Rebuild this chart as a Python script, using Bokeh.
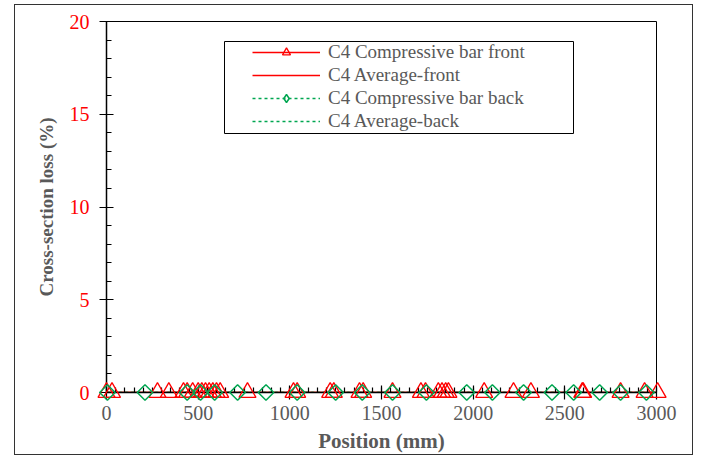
import math
from bokeh.plotting import figure
from bokeh.models import Range1d, FixedTicker, Legend, LegendItem, BoxAnnotation
from bokeh.embed import file_html
from bokeh.resources import INLINE

# ---- data ----
front_pos = [0, 30, 278, 340, 420, 440, 470, 500, 520, 540, 560, 580, 600, 620,
             769, 1020, 1040, 1220, 1240, 1380, 1400, 1560, 1715, 1740, 1810,
             1830, 1850, 1865, 2060, 2220, 2315, 2595, 2600, 2804, 2935, 3006]
front_loss = [0, 0, 0, 0, 0, 0, 0, 0, 0, 0, 0, 0, 0, 0, 0, 0, 0, 0, 0, 0, 0, 0,
              0, 0, 0, 0, 0, 0, 0, 0, 0, 0, 0, 0, 0, 0]
back_pos = [5, 210, 440, 513, 590, 715, 870, 1040, 1250, 1395, 1560, 1745, 1965,
            2105, 2275, 2430, 2548, 2690, 2804, 2945]
back_loss = [0, 0, 0, 0, 0, 0, 0, 0, 0, 0, 0, 0, 0, 0, 0, 0, 0, 0, 0, 0]
avg_pos = [0, 3000]
avg_front = [0, 0]
avg_back = [0, 0]
x_ticks = [0, 500, 1000, 1500, 2000, 2500, 3000]
y_ticks = [0, 5, 10, 15, 20]
labels = ["C4 Compressive bar front", "C4 Average-front",
          "C4 Compressive bar back", "C4 Average-back"]

RED = "#FF0000"
GREEN = "#00A651"
GRAY = "#595959"
FONT = "Liberation Serif"

p = figure(width=679, height=451, x_range=Range1d(0, 3000), y_range=Range1d(0, 20),
           output_backend="svg", toolbar_location=None,
           min_border_left=91, min_border_top=16, min_border_right=38,
           min_border_bottom=64)
p.styles = {"border": "1px solid #333333", "margin-left": "14px", "margin-top": "4px"}
p.xgrid.visible = False
p.ygrid.visible = False
p.outline_line_color = "black"
p.outline_line_width = 1
p.outline_line_alpha = 1

xa = p.xaxis[0]
xa.ticker = FixedTicker(ticks=x_ticks, minor_ticks=list(range(0, 3001, 50)))
ya = p.yaxis[0]
ya.ticker = FixedTicker(ticks=y_ticks, minor_ticks=list(range(0, 21)))
for ax in (xa, ya):
    ax.axis_line_color = "black"
    ax.axis_line_width = 1.5
    ax.major_tick_line_color = "black"
    ax.major_tick_line_width = 1.2
    ax.minor_tick_line_color = "black"
    ax.minor_tick_line_width = 1.2
    ax.major_tick_in = 7
    ax.major_tick_out = 7
    ax.minor_tick_in = 5
    ax.minor_tick_out = 0
    ax.major_label_text_font = FONT
    ax.major_label_text_font_size = "20px"
    ax.axis_label_text_font = FONT
    ax.axis_label_text_font_style = "bold"
    ax.axis_label_text_color = GRAY

xa.major_label_text_color = GRAY
xa.major_label_standoff = 6
xa.axis_label = "Position (mm)"
xa.axis_label_text_font_size = "21px"
xa.axis_label_standoff = 6

ya.major_label_text_color = RED
ya.major_label_standoff = 10
ya.axis_label = "Cross-section loss (%)"
ya.axis_label_text_font_size = "19px"
ya.axis_label_standoff = 10

# ---- renderers ----
lf = p.line(front_pos, front_loss, line_color=RED, line_width=1.5)
la = p.line(avg_pos, avg_front, line_color=RED, line_width=1.5)
lb = p.line(back_pos, back_loss, line_color=GREEN, line_width=1.5, line_dash="3 3")
lab = p.line(avg_pos, avg_back, line_color=GREEN, line_width=1.5, line_dash="3 3")
sf = p.scatter(front_pos, front_loss, marker="triangle", size=17, fill_alpha=0,
               line_color=RED, line_width=1.3, level="overlay")
sb = p.scatter(back_pos, back_loss, marker="square", angle=math.pi / 4, size=11,
               fill_alpha=0, line_color=GREEN, line_width=1.5, level="overlay")
# legend-only proxy (a single NaN point, never drawn) so the key shows a diamond
sb_key = p.scatter(x=[float("nan")], y=[float("nan")], marker="diamond", size=13,
                   fill_alpha=0, line_color=GREEN, line_width=1.5)

legend = Legend(items=[
    LegendItem(label=labels[0], renderers=[lf, sf]),
    LegendItem(label=labels[1], renderers=[la]),
    LegendItem(label=labels[2], renderers=[lb, sb_key]),
    LegendItem(label=labels[3], renderers=[lab]),
], location=(144, 258))
legend.label_text_font = FONT
legend.label_text_font_size = "19px"
legend.label_text_color = GRAY
legend.glyph_width = 68
legend.glyph_height = 20
legend.label_height = 20
legend.spacing = 1
legend.padding = 2
legend.margin = 0
legend.label_standoff = 8
legend.border_line_alpha = 0
legend.background_fill_alpha = 0
p.add_layout(legend)

box = BoxAnnotation(left=208, right=557, top=35, bottom=127,
                    left_units="canvas", right_units="canvas",
                    top_units="canvas", bottom_units="canvas",
                    fill_alpha=0, line_color="black", line_width=1, line_alpha=1)
p.add_layout(box)

open("out.html", "w").write(file_html(p, INLINE))
